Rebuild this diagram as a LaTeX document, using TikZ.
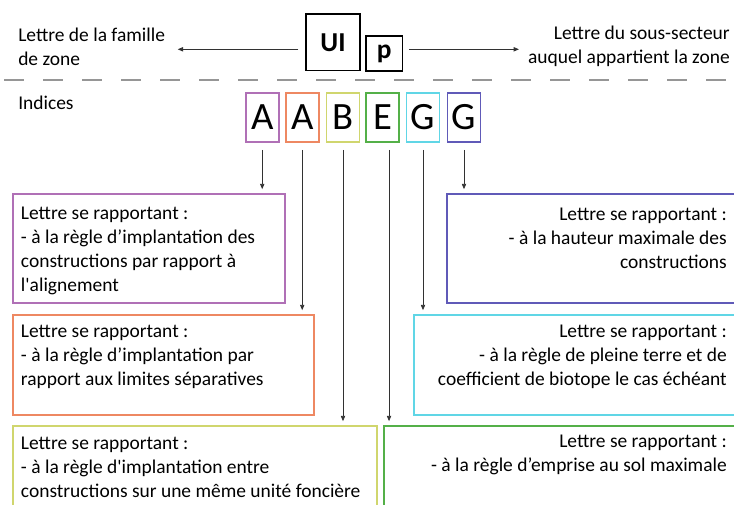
\documentclass[tikz,border=0pt]{standalone}
\usepackage{fontspec}
\setmainfont{Carlito}
\usetikzlibrary{arrows.meta,fit}

\definecolor{cA}{RGB}{176,112,182}
\definecolor{cAA}{RGB}{238,136,98}
\definecolor{cB}{RGB}{208,214,110}
\definecolor{cE}{RGB}{84,176,72}
\definecolor{cG}{RGB}{96,214,230}
\definecolor{cGG}{RGB}{96,90,184}

\tikzset{
  txt/.style={inner sep=0pt, font=\fontsize{14.6}{18}\selectfont},
  lnk/.style={draw={rgb,255:red,50;green,50;blue,50}, line width=0.6pt, -{Triangle[length=4pt,width=3.2pt]}},
  idx/.style={draw=#1, line width=1.2pt, minimum width=24.75pt, minimum height=36.75pt, inner sep=0pt, font=\fontsize{29}{29}\selectfont},
  descbox/.style={draw=#1, line width=1.2pt, inner sep=0pt}
}

\begin{document}
\begin{tikzpicture}[x=0.75pt,y=0.75pt,yscale=-1,xscale=1]
\useasboundingbox (0,0) rectangle (734,504);
\clip (0,0) rectangle (734,504);

% Zone code
\node[draw, line width=1.2pt, minimum width=40.7pt, minimum height=42.5pt, font=\fontsize{20.5}{20.5}\selectfont\bfseries] (UI) at (333,42.3) {UI};
\node[draw, line width=1.2pt, minimum width=27.5pt, minimum height=26pt, font=\fontsize{20.5}{20.5}\selectfont\bfseries] (p) at (384.3,53.4) {p};

% Text Node
\node[txt, anchor=west, align=left] (famille) at (18,46.5) {Lettre de la famille\\de zone};
% Text Node
\node[txt, anchor=east, align=right] (secteur) at (730,46.5) {Lettre du sous-secteur\\auquel appartient la zone};

\coordinate (famE) at (177.7,49.3);
\coordinate (secW) at (519,49.3);
\draw[lnk, shorten <=5pt] (UI.west |- famE) -- (famE);
\draw[lnk, shorten <=4pt] (p.east |- secW) -- (secW);

%Dashed separator
\draw[draw={rgb,255:red,150;green,150;blue,150}, line width=1.1pt, dash pattern={on 15pt off 14.25pt}] (4,80) -- (734,80);

% Text Node
\node[txt, anchor=west] (indices) at (18,103) {Indices};

% Index letters
\node[idx=cA]  (iA)  at (262.2,117.5) {A};
\node[idx=cAA] (iAA) at (302.2,117.5) {A};
\node[idx=cB]  (iB)  at (343,117.5)   {B};
\node[idx=cE]  (iE)  at (382.5,117.5) {E};
\node[idx=cG]  (iG)  at (423,117.5)   {G};
\node[idx=cGG] (iGG) at (464,117.5)   {G};

% Boxes
\node[descbox=cA,  fit={(12.7,194) (285,303)}] (dA) {};
\node[descbox=cGG, fit={(447,194) (740,303)}]  (dGG) {};
\node[descbox=cAA, fit={(12.7,315) (314,415)}] (dAA) {};
\node[descbox=cG,  fit={(414,315) (740,415)}]  (dG) {};
\node[descbox=cB,  fit={(12.7,426) (377,520)}] (dB) {};
\node[descbox=cE,  fit={(384,426) (740,520)}]  (dE) {};

% Text Node
\node[txt, anchor=west, align=left] (tA) at (20.7,250.5) {Lettre se rapportant :\\- à la règle d’implantation des\\constructions par rapport à\\l\textquotesingle alignement};
% Text Node
\node[txt, anchor=east, align=right] (tGG) at (727,238.5) {Lettre se rapportant :\\- à la hauteur maximale des\\constructions};
% Text Node
\node[txt, anchor=west, align=left] (tAA) at (20.7,357) {Lettre se rapportant :\\- à la règle d’implantation par\\rapport aux limites séparatives};
% Text Node
\node[txt, anchor=east, align=right] (tG) at (727,357) {Lettre se rapportant :\\- à la règle de pleine terre et de\\coefficient de biotope le cas échéant};
% Text Node
\node[txt, anchor=west, align=left] (tB) at (20.7,467) {Lettre se rapportant :\\- à la règle d\textquotesingle implantation entre\\constructions sur une même unité foncière};
% Text Node
\node[txt, anchor=east, align=right] (tE) at (727,455) {Lettre se rapportant :\\- à la règle d’emprise au sol maximale};

% Arrows from the letters
\coordinate (eE) at ([xshift=4.9pt]iE.south);
\draw[lnk, shorten <=5.25pt, shorten >=3pt] (iA.south)  -- (iA.south |- dA.north);
\draw[lnk, shorten <=5.25pt, shorten >=3pt] (iAA.south) -- (iAA.south |- dAA.north);
\draw[lnk, shorten <=5.25pt, shorten >=3pt] (iB.south)  -- (iB.south |- dB.north);
\draw[lnk, shorten <=5.25pt, shorten >=3pt] (eE)        -- (eE |- dE.north);
\draw[lnk, shorten <=5.25pt, shorten >=3pt] (iG.south)  -- (iG.south |- dG.north);
\draw[lnk, shorten <=5.25pt, shorten >=3pt] (iGG.south) -- (iGG.south |- dGG.north);

\end{tikzpicture}
\end{document}
